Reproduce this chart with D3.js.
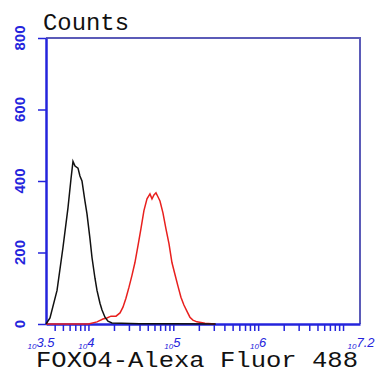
<!DOCTYPE html>
<html><head><meta charset="utf-8">
<script src="https://cdn.jsdelivr.net/npm/d3@7"></script>
<style>html,body{margin:0;padding:0;background:#fff;}</style>
</head><body>
<svg id="c" width="377" height="379"></svg>
<script>
// log10 of fluorescence intensity, and counts
const blackX = [3.5,3.547,3.63,3.70,3.759,3.794,3.818,3.842,3.877,3.90,3.924,3.959,3.983,4.018,4.042,4.077,4.101,4.136,4.16,4.195,4.23,4.277,4.6,5.0,5.5];
const blackY = [0,17,94,214,325,405,455,442,436,414,400,344,308,239,186,128,94,58,39,19,8,3,1,1,0];
const redX = [3.5,4.0,4.101,4.171,4.218,4.266,4.325,4.372,4.407,4.442,4.478,4.513,4.548,4.584,4.619,4.654,4.69,4.725,4.749,4.772,4.796,4.819,4.843,4.878,4.913,4.949,4.984,5.019,5.055,5.09,5.125,5.16,5.196,5.231,5.278,5.373,5.49];
const redY = [0,0,6,14,17,22,22,31,47,72,103,136,172,219,267,317,350,364,350,361,367,356,344,311,267,225,172,139,106,75,53,36,19,11,6,2,0];
const yTicks = [0,200,400,600,800];
const xMajorExp = [4,5,6];
const xEndLabels = ["3.5","7.2"];
const yTitle = "Counts";
const xTitle = "FOXO4-Alexa Fluor 488";

const svg = d3.select("#c");
const L=46, R=360, T=38, B=324;
const x = d3.scaleLog().domain([Math.pow(10,3.5),Math.pow(10,7.2)]).range([L,R]);
const y = d3.scaleLinear().domain([0,800]).range([B,T]);
const blue = "#2424dc";

// frame
svg.append("line").attr("x1",L).attr("x2",R).attr("y1",T).attr("y2",T).attr("stroke","#5b5bb8").attr("stroke-width",2);
svg.append("line").attr("x1",R).attr("x2",R).attr("y1",T-1).attr("y2",B).attr("stroke","#5b5bb8").attr("stroke-width",2);

// minor/major ticks
const tv=[];
for(let e=3;e<=7;e++){for(let k=1;k<10;k++){const v=k*Math.pow(10,e); if(v>=x.domain()[0]&&v<=x.domain()[1]) tv.push(v);}}
const xAxis = d3.axisBottom(x).tickValues(tv).tickFormat("").tickSize(7).tickSizeOuter(0);
const gx = svg.append("g").attr("transform",`translate(0,${B})`).call(xAxis);
gx.selectAll("line").attr("stroke",blue).attr("stroke-width",1.5);
gx.select(".domain").attr("stroke",blue).attr("stroke-width",2.5);

const yAxis = d3.axisLeft(y).tickValues(yTicks).tickSize(8).tickSizeOuter(0).tickFormat("");
const gy = svg.append("g").attr("transform",`translate(${L},0)`).call(yAxis);
gy.selectAll("line").attr("stroke",blue).attr("stroke-width",1.5);
gy.select(".domain").attr("stroke",blue).attr("stroke-width",2.5);

// y labels rotated
yTicks.forEach(t=>{
  svg.append("text").attr("transform",`translate(25,${y(t)}) rotate(-90)`)
    .attr("text-anchor","middle").attr("font-family","Liberation Sans, Arial").attr("font-weight","bold")
    .attr("font-size",15).attr("fill",blue).text(String(t));
});

// x labels
function xlab(val, expText, dx){
  const t = svg.append("text").attr("x",x(val)+dx).attr("y",349).attr("font-family","Liberation Sans, Arial")
    .attr("font-style","italic").attr("fill",blue).attr("text-anchor","middle");
  t.append("tspan").attr("font-size",8).text("10");
  t.append("tspan").attr("font-size",13).attr("dy",-2).text(expText);
}
xlab(Math.pow(10,3.5), xEndLabels[0], -5);
xMajorExp.forEach((e,i)=>xlab(Math.pow(10,e), String(e), [-2,-1,0][i]));
xlab(Math.pow(10,7.2), xEndLabels[1], 1);

// curves
const line = d3.line().x(d=>x(Math.pow(10,d[0]))).y(d=>y(d[1])).curve(d3.curveLinear);
svg.append("path").datum(redX.map((v,i)=>[v,redY[i]])).attr("d",line).attr("fill","none").attr("stroke","#e8201e").attr("stroke-width",1.5);
svg.append("path").datum(blackX.map((v,i)=>[v,blackY[i]])).attr("d",line).attr("fill","none").attr("stroke","#111").attr("stroke-width",1.5);

// titles
svg.append("text").attr("x",43).attr("y",30).attr("font-family","Liberation Mono, monospace").attr("font-size",24)
  .attr("textLength",86).attr("lengthAdjust","spacingAndGlyphs").attr("fill","#111").text(yTitle);
svg.append("text").attr("x",36).attr("y",367).attr("font-family","Liberation Mono, monospace").attr("font-size",22)
  .attr("textLength",322).attr("lengthAdjust","spacingAndGlyphs").attr("fill","#111").text(xTitle);
</script>
</body></html>
